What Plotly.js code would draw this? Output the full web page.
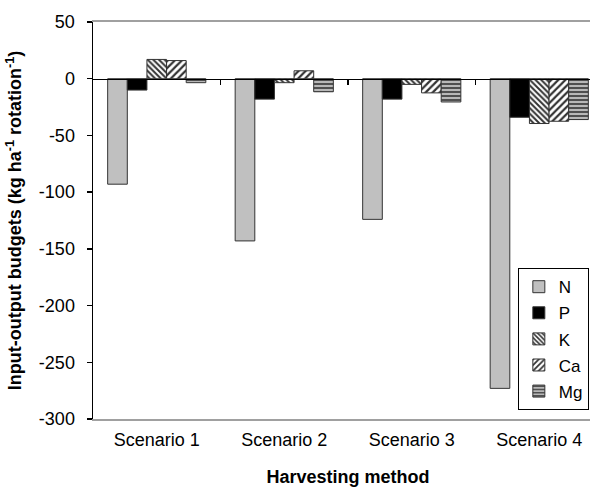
<!DOCTYPE html>
<html>
<head>
<meta charset="utf-8">
<script src="https://cdn.plot.ly/plotly-3.0.1.min.js"></script>
<style>
html,body{margin:0;padding:0;overflow:hidden;background:#fff;}
#chart{width:603px;height:487px;}
</style>
</head>
<body>
<div id="chart"></div>
<script>
var categories = ['Scenario 1', 'Scenario 2', 'Scenario 3', 'Scenario 4'];
var nValues  = [-93, -143, -124, -273];
var pValues  = [-10, -18, -18, -34];
var kValues  = [17, -3.5, -5, -39.5];
var caValues = [16, 7, -12.5, -37.5];
var mgValues = [-3.5, -11.5, -20.5, -36];
var yTicks   = [50, 0, -50, -100, -150, -200, -250, -300];

var FONT = 'Liberation Sans, Arial, sans-serif';
var outline = {color: '#333333', width: 1};

var traces = [
  {name: 'N', y: nValues, marker: {color: '#c0c0c0', line: outline}},
  {name: 'P', y: pValues, marker: {color: '#000000', line: outline}},
  {name: 'K', y: kValues, marker: {color: '#ffffff', line: outline,
     pattern: {shape: '\\', size: 4, solidity: 0.5, fgcolor: '#333333', bgcolor: '#ffffff'}}},
  {name: 'Ca', y: caValues, marker: {color: '#ffffff', line: outline,
     pattern: {shape: '/', size: 5, solidity: 0.45, fgcolor: '#333333', bgcolor: '#ffffff'}}},
  {name: 'Mg', y: mgValues, marker: {color: '#a8a8a8', line: outline,
     pattern: {shape: '-', size: 4, solidity: 0.45, fgcolor: '#444444', bgcolor: '#b8b8b8'}}}
].map(function (t, i) {
  return Object.assign({type: 'bar', x: categories, legendgroup: 'g' + i, hoverinfo: 'y'}, t);
});

// helper trace so that the zero-level axis (with its ticks) is drawn
traces.push({type: 'scatter', x: [0], y: [null], xaxis: 'x2', yaxis: 'y',
  mode: 'markers', showlegend: false, hoverinfo: 'skip'});

var layout = {
  width: 603, height: 487,
  margin: {l: 93, r: 0, t: 22, b: 68},
  paper_bgcolor: '#ffffff', plot_bgcolor: '#ffffff',
  font: {family: FONT, size: 18, color: '#000000'},
  barmode: 'group', bargap: 0.23, bargroupgap: 0,
  showlegend: true,
  legend: {x: 0.833, xanchor: 'left', y: 0.38, yanchor: 'top',
    bordercolor: '#000000', borderwidth: 1, bgcolor: '#ffffff',
    font: {family: FONT, size: 17, color: '#000000'},
    traceorder: 'grouped', tracegroupgap: 1},
  xaxis: {type: 'category', range: [-0.5, 3.5],
    showline: true, linecolor: '#a0a0a0', linewidth: 2, mirror: true,
    ticks: '', showgrid: false, zeroline: false,
    tickfont: {family: FONT, size: 18, color: '#000000'},
    ticklabelstandoff: 3,
    title: {text: '<b>Harvesting method</b>', standoff: 22,
      font: {family: FONT, size: 18, color: '#000000'}}},
  xaxis2: {overlaying: 'x', anchor: 'free', position: 300 / 350,
    range: [-0.5, 3.5], showline: true, linecolor: '#000000', linewidth: 1.3,
    tickvals: [0.5, 1.5, 2.5], ticks: 'outside', ticklen: 5, tickcolor: '#000000',
    tickwidth: 1.3, showticklabels: false, showgrid: false, zeroline: false},
  yaxis: {range: [-300, 50], tickvals: yTicks, ticktext: yTicks.map(String),
    showline: true, linecolor: '#000000', linewidth: 1.5,
    ticks: 'outside', ticklen: 5, tickcolor: '#000000', tickwidth: 1.3,
    showgrid: false, zeroline: false, ticklabelstandoff: 8,
    tickfont: {family: FONT, size: 18, color: '#000000'},
    title: {text: '<b>Input-output budgets (kg ha<sup>-1</sup> rotation<sup>-1</sup>)</b>',
      standoff: 12, font: {family: FONT, size: 18, color: '#000000'}}}
};

Plotly.newPlot('chart', traces, layout, {displayModeBar: false, staticPlot: true});
</script>
</body>
</html>
